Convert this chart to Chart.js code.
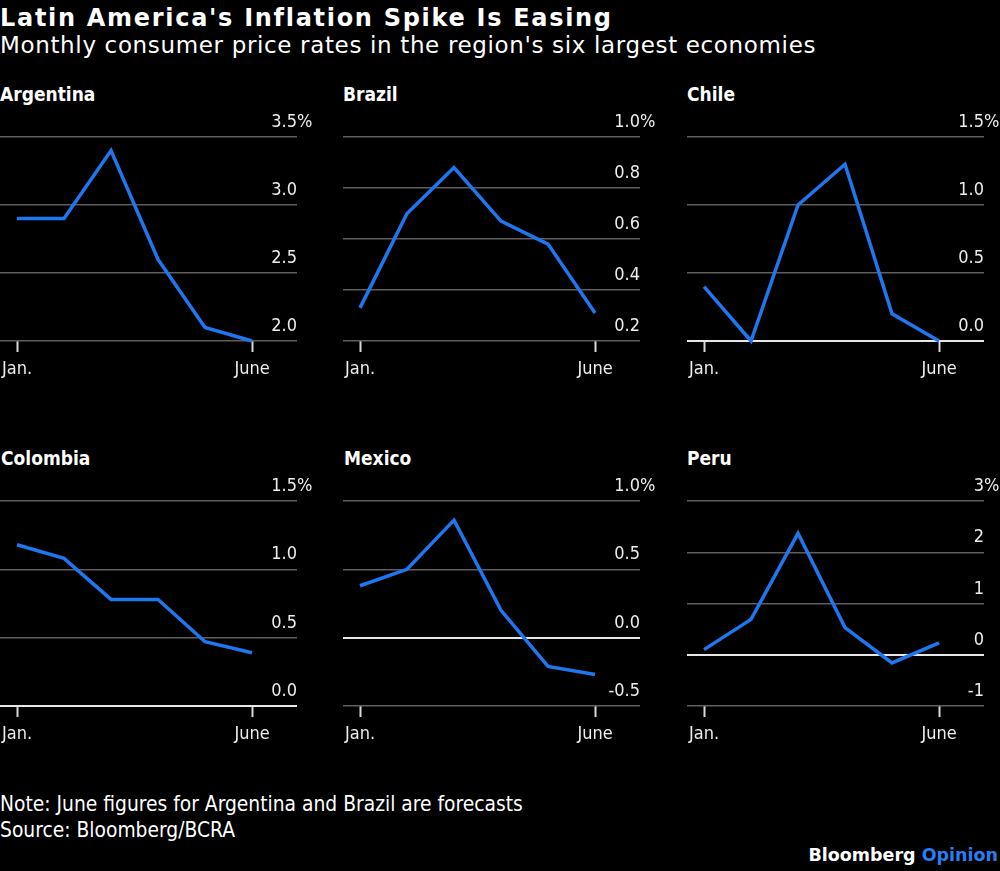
<!DOCTYPE html>
<html>
<head>
<meta charset="utf-8">
<script src="https://cdn.jsdelivr.net/npm/chart.js@4/dist/chart.umd.min.js"></script>
<style>
body { margin: 0; background: #000; width: 1000px; height: 871px; overflow: hidden; position: relative; font-family: 'DejaVu Sans', sans-serif; color: #fff; }
.t { position: absolute; white-space: nowrap; line-height: 1; }
#title { left: 0; top: 6px; font-weight: bold; font-size: 24px; letter-spacing: 1.7px; }
#subtitle { left: 0; top: 34px; font-size: 23px; letter-spacing: 0.65px; }
.name { font-family: 'DejaVu Sans Condensed', 'DejaVu Sans', sans-serif; font-weight: bold; font-size: 19px; }
#notes { left: 0; top: 791px; font-family: 'DejaVu Sans Condensed', 'DejaVu Sans', sans-serif; font-size: 20.8px; line-height: 26px; }
#logo { right: 2px; top: 847px; font-weight: bold; font-size: 17.5px; }
#logo span { color: #2a7cf0; }
canvas { position: absolute; }
</style>
</head>
<body>
<div class="t" id="title">Latin America's Inflation Spike Is Easing</div>
<div class="t" id="subtitle">Monthly consumer price rates in the region's six largest economies</div>

<div class="t name" style="left:0; top:85px;">Argentina</div>
<div class="t name" style="left:343px; top:85px;">Brazil</div>
<div class="t name" style="left:687px; top:85px;">Chile</div>
<div class="t name" style="left:1px; top:449px;">Colombia</div>
<div class="t name" style="left:344px; top:449px;">Mexico</div>
<div class="t name" style="left:687px; top:449px;">Peru</div>

<canvas id="argentina" width="313" height="279" style="left:0; top:107px;"></canvas>
<canvas id="brazil" width="313" height="279" style="left:343px; top:107px;"></canvas>
<canvas id="chile" width="313" height="279" style="left:687px; top:107px;"></canvas>
<canvas id="colombia" width="313" height="280" style="left:0; top:471px;"></canvas>
<canvas id="mexico" width="313" height="280" style="left:343px; top:471px;"></canvas>
<canvas id="peru" width="313" height="280" style="left:687px; top:471px;"></canvas>

<div class="t" id="notes">Note: June figures for Argentina and Brazil are forecasts<br>Source: Bloomberg/BCRA</div>
<div class="t" id="logo">Bloomberg <span>Opinion</span></div>

<script>
// months Jan. .. June, only first and last get a label
var Months = ['Jan.', 'Feb.', 'Mar.', 'Apr.', 'May', 'June'];

// monthly CPI change, %
var Argentina = [2.9, 2.9, 3.4, 2.6, 2.1, 2.0];
var Brazil = [0.33, 0.70, 0.88, 0.67, 0.58, 0.31];
var Chile = [0.4, 0.0, 1.0, 1.3, 0.2, 0.0];
var Colombia = [1.18, 1.08, 0.78, 0.78, 0.47, 0.39];
var Mexico = [0.38, 0.50, 0.86, 0.20, -0.21, -0.27];
var Peru = [0.10, 0.69, 2.37, 0.53, -0.16, 0.23];

// y axis ticks of each panel
var TicksArgentina = [2.0, 2.5, 3.0, 3.5];
var TicksBrazil = [0.2, 0.4, 0.6, 0.8, 1.0];
var TicksChile = [0, 0.5, 1.0, 1.5];
var TicksColombia = [0, 0.5, 1.0, 1.5];
var TicksMexico = [-0.5, 0, 0.5, 1.0];
var TicksPeru = [-1, 0, 1, 2, 3];

var LabelFont = "'DejaVu Sans Condensed', 'DejaVu Sans', sans-serif";
Chart.defaults.font.family = LabelFont;

// tick labels sit above their grid line, right aligned, % hanging past the end
var YLabels = {
    id: 'yLabels',
    beforeDatasetsDraw: function(chart, args, opts)
    {
        var ctx = chart.ctx;
        var area = chart.chartArea;
        var y = chart.scales.y;
        ctx.save();
        ctx.font = '18px ' + LabelFont;
        ctx.fillStyle = '#ececec';
        ctx.textBaseline = 'alphabetic';
        y.ticks.forEach(function(t, i)
        {
            var py = y.getPixelForValue(t.value) - 10;
            ctx.textAlign = 'right';
            ctx.fillText(t.value.toFixed(opts.decimals), area.right, py);
            if (i === y.ticks.length - 1)
            {
                ctx.textAlign = 'left';
                ctx.fillText('%', area.right, py);
            }
        });
        ctx.restore();
    }
};

function Panel(id, values, ticks, decimals)
{
    var ctx = document.getElementById(id).getContext('2d');
    return new Chart(ctx, {
        type: 'line',
        data: {
            datasets: [{
                data: values.map(function(v, i) { return {x: i, y: v}; }),
                borderColor: '#1f77f0',
                borderWidth: 3.5,
                pointRadius: 0,
                tension: 0,
                clip: false
            }]
        },
        options: {
            responsive: false,
            animation: false,
            events: [],
            layout: {padding: {top: 30, right: 16, left: 0, bottom: 0}},
            plugins: {
                legend: {display: false},
                tooltip: {enabled: false},
                yLabels: {decimals: decimals}
            },
            scales: {
                x: {
                    type: 'linear',
                    min: -0.362,
                    max: 5.957,
                    border: {display: false},
                    grid: {drawOnChartArea: false, tickLength: 11, tickColor: '#d9d9d9', tickWidth: 2},
                    afterBuildTicks: function(axis) { axis.ticks = [{value: 0}, {value: Months.length - 1}]; },
                    afterFit: function(axis)
                    {
                        axis.height = 45;
                        axis.paddingLeft = 0;
                        axis.paddingRight = 0;
                    },
                    ticks: {
                        color: '#ececec',
                        font: {size: 18},
                        padding: 7,
                        maxRotation: 0,
                        autoSkip: false,
                        callback: function(v) { return Months[v]; }
                    }
                },
                y: {
                    position: 'right',
                    min: ticks[0],
                    max: ticks[ticks.length - 1],
                    border: {display: false},
                    afterBuildTicks: function(axis) { axis.ticks = ticks.map(function(v) { return {value: v}; }); },
                    afterFit: function(axis) { axis.width = 0; },
                    ticks: {display: false},
                    grid: {
                        drawTicks: false,
                        color: function(c) { return c.tick && c.tick.value === 0 ? '#e6e6e6' : '#5e5e5e'; },
                        lineWidth: function(c) { return c.tick && c.tick.value === 0 ? 2 : 1.5; }
                    }
                }
            }
        },
        plugins: [YLabels]
    });
}

Panel('argentina', Argentina, TicksArgentina, 1);
Panel('brazil', Brazil, TicksBrazil, 1);
Panel('chile', Chile, TicksChile, 1);
Panel('colombia', Colombia, TicksColombia, 1);
Panel('mexico', Mexico, TicksMexico, 1);
Panel('peru', Peru, TicksPeru, 0);
</script>
</body>
</html>
